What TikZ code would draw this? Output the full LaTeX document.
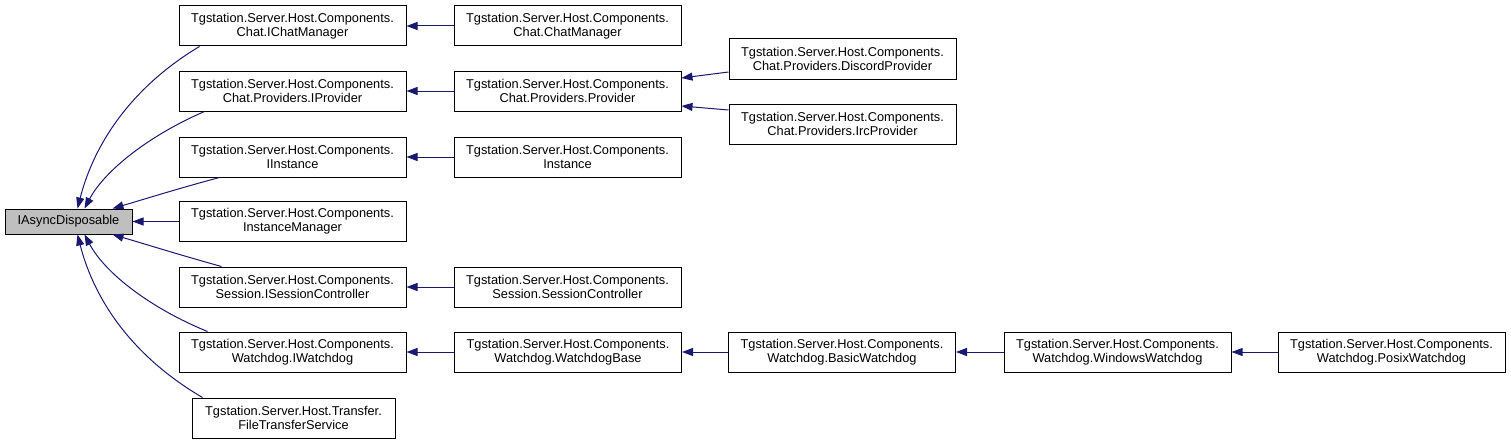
\documentclass[tikz,border=0pt]{standalone}
\usepackage{fontspec}
\setmainfont{Liberation Sans}
\usetikzlibrary{arrows.meta,calc}
\definecolor{edgeblue}{HTML}{191970}
\definecolor{rootgray}{HTML}{BFBFBF}
\begin{document}
\begin{tikzpicture}[x=1pt,y=-1pt,
  cls/.style={draw=black, line width=1pt, fill=white, rectangle, minimum width=227pt, minimum height=40pt, inner sep=0pt, align=center, font=\fontsize{12.8pt}{14pt}\selectfont},
  rootcls/.style={cls, fill=rootgray, minimum width=127pt, minimum height=25pt},
  inh/.style={draw=edgeblue, line width=1pt, -{Triangle[length=11pt,width=8pt]}},
]
\useasboundingbox (0,0) rectangle (1511,444);
% root
\node[rootcls] (root) at (68.5,221.5) {IAsyncDisposable};
% column 1
\node[cls] (ichat) at (292.5,26) {Tgstation.Server.Host.Components.\\Chat.IChatManager};
\node[cls] (iprov) at (292.5,91) {Tgstation.Server.Host.Components.\\Chat.Providers.IProvider};
\node[cls] (iinst) at (292.5,157) {Tgstation.Server.Host.Components.\\IInstance};
\node[cls] (imgr) at (292.5,221.5) {Tgstation.Server.Host.Components.\\InstanceManager};
\node[cls] (isess) at (292.5,287) {Tgstation.Server.Host.Components.\\Session.ISessionController};
\node[cls] (iwd) at (292.5,352) {Tgstation.Server.Host.Components.\\Watchdog.IWatchdog};
\node[cls, minimum width=203pt] (ftrans) at (293.5,418) {Tgstation.Server.Host.Transfer.\\FileTransferService};
% column 2
\node[cls] (chatmgr) at (567.5,26) {Tgstation.Server.Host.Components.\\Chat.ChatManager};
\node[cls] (prov) at (567.5,91) {Tgstation.Server.Host.Components.\\Chat.Providers.Provider};
\node[cls] (inst) at (567.5,157) {Tgstation.Server.Host.Components.\\Instance};
\node[cls] (sess) at (567.5,287) {Tgstation.Server.Host.Components.\\Session.SessionController};
\node[cls] (wbase) at (568,352) {Tgstation.Server.Host.Components.\\Watchdog.WatchdogBase};
% column 3
\node[cls] (discord) at (842.5,59) {Tgstation.Server.Host.Components.\\Chat.Providers.DiscordProvider};
\node[cls] (irc) at (842.5,124) {Tgstation.Server.Host.Components.\\Chat.Providers.IrcProvider};
\node[cls] (basic) at (842,352) {Tgstation.Server.Host.Components.\\Watchdog.BasicWatchdog};
% column 4, 5
\node[cls] (windows) at (1117.5,352) {Tgstation.Server.Host.Components.\\Watchdog.WindowsWatchdog};
\node[cls] (posix) at (1391.5,352) {Tgstation.Server.Host.Components.\\Watchdog.PosixWatchdog};
% edges to root
\draw[inh] ($(ichat.south west)+(21,0)$) .. controls (135,85) and (95,140) .. ($(root.north west)+(73,0)$);
\draw[inh] ($(iprov.south west)+(26,0)$) .. controls (150,135) and (105,170) .. ($(root.north west)+(80,0)$);
\draw[inh] ($(iinst.south west)+(41,0)$) .. controls (180,188) and (145,199) .. ($(root.north west)+(108,0)$);
\draw[inh] (imgr) -- (root);
\draw[inh] ($(isess.north west)+(43,0)$) .. controls (180,255) and (145,244) .. ($(root.south west)+(108,0)$);
\draw[inh] ($(iwd.north west)+(29,0)$) .. controls (150,308) and (105,273) .. ($(root.south west)+(80,0)$);
\draw[inh] ($(ftrans.north west)+(11,0)$) .. controls (135,358) and (95,303) .. ($(root.south west)+(73,0)$);
% column edges
\draw[inh] (chatmgr) -- (ichat);
\draw[inh] (prov) -- (iprov);
\draw[inh] (inst) -- (iinst);
\draw[inh] (sess) -- (isess);
\draw[inh] (wbase) -- (iwd);
\draw[inh] ($(discord.west)+(0,13)$) -- ($(prov.east)+(0,-13)$);
\draw[inh] ($(irc.west)+(0,-14)$) -- ($(prov.east)+(0,15)$);
\draw[inh] (basic) -- (wbase);
\draw[inh] (windows) -- (basic);
\draw[inh] (posix) -- (windows);
\end{tikzpicture}
\end{document}
